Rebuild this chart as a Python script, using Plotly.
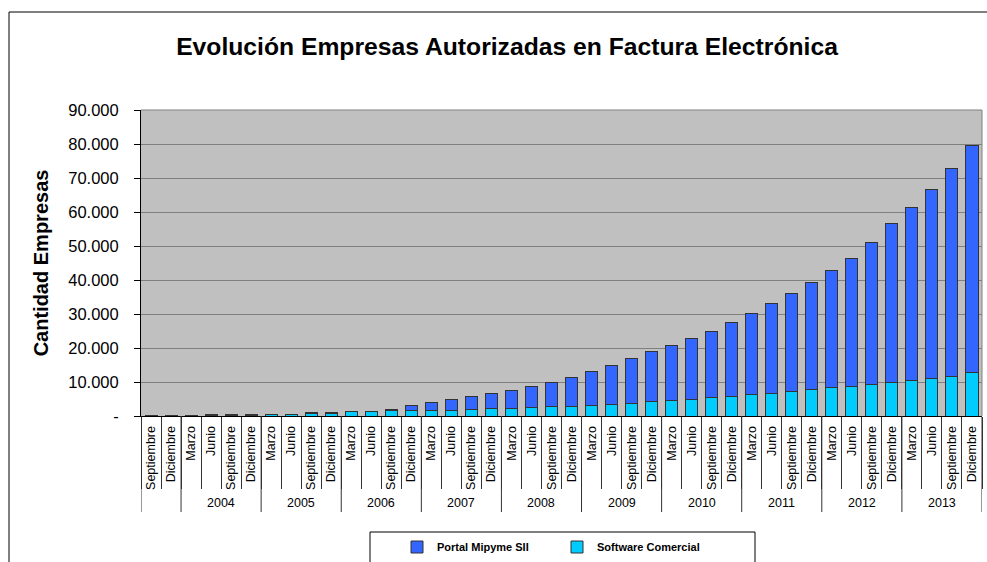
import plotly.graph_objects as go

# ---- data ----
first_months = ["Septiembre", "Diciembre"]          # end of 2003 (no year label)
quarter_months = ["Marzo", "Junio", "Septiembre", "Diciembre"]
years = ["2004", "2005", "2006", "2007", "2008", "2009", "2010", "2011", "2012", "2013"]

software_comercial = [100, 150, 200, 220, 250, 280, 300, 320, 800, 800,
                      1200, 1200, 1600, 1500, 1600, 1600, 1900, 2100, 2100, 2500,
                      2800, 2900, 3200, 3500, 3800, 4200, 4600, 5000, 5300, 5600,
                      6300, 6700, 7200, 7900, 8300, 8700, 9300, 10000, 10400, 11100,
                      11600, 12700]
portal_mipyme = [50, 50, 50, 80, 50, 70, 50, 80, 200, 200,
                 200, 200, 400, 1500, 2400, 3300, 3800, 4500, 5500, 6100,
                 7100, 8400, 9900, 11400, 13100, 14800, 16000, 17700, 19700, 21900,
                 23900, 26300, 28800, 31400, 34600, 37600, 41700, 46500, 50900, 55600,
                 61200, 67000]

y_tickvals = [0, 10000, 20000, 30000, 40000, 50000, 60000, 70000, 80000, 90000]
y_ticktext = ["-", "10.000", "20.000", "30.000", "40.000", "50.000",
              "60.000", "70.000", "80.000", "90.000"]

# ---- build ----
month_labels = first_months + quarter_months * len(years)
xs = list(range(len(month_labels)))
n = len(xs)

FONT = "Liberation Sans, Arial, sans-serif"

W, H = 987, 562
L, R, T, B = 141, 5, 110, 146
PH = H - T - B
PW = W - L - R


def py(pix):  # pixel y -> paper y
    return (H - B - pix) / PH


def px(pix):  # pixel x -> paper x
    return (pix - L) / PW


fig = go.Figure()
fig.add_trace(go.Bar(
    x=xs, y=software_comercial, name="Software Comercial",
    marker=dict(color="#00CCFF", line=dict(color="#333333", width=1)),
))
fig.add_trace(go.Bar(
    x=xs, y=portal_mipyme, name="Portal Mipyme SII",
    marker=dict(color="#3366FF", line=dict(color="#333333", width=1)),
))

shapes = []
# year separators (long lines)
year_bounds = [-0.5, 1.5] + [1.5 + 4 * (k + 1) for k in range(len(years))]
for b in year_bounds:
    shapes.append(dict(type="line", xref="x", yref="paper", x0=b, x1=b,
                       y0=0, y1=py(512), line=dict(color="#333333", width=1)))
# plot border (gray, top & right)
shapes.append(dict(type="line", xref="paper", yref="paper", x0=0, x1=1, y0=1, y1=1,
                   line=dict(color="#808080", width=1)))
shapes.append(dict(type="line", xref="paper", yref="paper", x0=1, x1=1, y0=0, y1=1,
                   line=dict(color="#808080", width=1)))
# outer chart frame
shapes.append(dict(type="line", xref="paper", yref="paper", x0=px(9), x1=px(995),
                   y0=py(12), y1=py(12), line=dict(color="#000000", width=1)))
shapes.append(dict(type="line", xref="paper", yref="paper", x0=px(9), x1=px(9),
                   y0=py(12), y1=py(570), line=dict(color="#000000", width=1)))
# legend box
shapes.append(dict(type="rect", xref="paper", yref="paper", x0=px(370), x1=px(755),
                   y0=py(532), y1=py(575), line=dict(color="#000000", width=1)))

annotations = []
for k, yr in enumerate(years):
    center = 2 + 4 * k + 1.5
    annotations.append(dict(x=center, y=py(503), xref="x", yref="paper", text=yr,
                            showarrow=False, yanchor="middle", xanchor="center",
                            font=dict(family=FONT, size=12.5, color="#000000")))

fig.update_layout(
    width=W, height=H,
    margin=dict(l=L, r=R, t=T, b=B, autoexpand=False),
    paper_bgcolor="white",
    plot_bgcolor="#C0C0C0",
    barmode="stack",
    bargap=0.4,
    title=dict(text="<b>Evolución Empresas Autorizadas en Factura Electrónica</b>",
               x=507 / W, xanchor="center", y=1 - 46 / H, yanchor="middle",
               font=dict(family=FONT, size=24.7, color="#000000")),
    xaxis=dict(
        range=[-0.5, n - 0.5],
        tickmode="array", tickvals=xs, ticktext=month_labels,
        tickangle=-90, ticks="", ticklabelstandoff=4,
        tickfont=dict(family=FONT, size=12.5, color="#000000"),
        showline=True, linecolor="#000000", linewidth=1,
        showgrid=False, zeroline=False,
        minor=dict(tickmode="array", tickvals=[i - 0.5 for i in range(n + 1)],
                   ticks="outside", ticklen=72, tickwidth=1, tickcolor="#333333",
                   showgrid=False),
    ),
    yaxis=dict(
        range=[0, 90000],
        tickmode="array", tickvals=y_tickvals, ticktext=y_ticktext,
        ticks="outside", ticklen=6, tickcolor="#000000",
        ticklabelstandoff=12,
        tickfont=dict(family=FONT, size=16.5, color="#000000"),
        showline=True, linecolor="#000000", linewidth=1,
        showgrid=True, gridcolor="#808080", gridwidth=1,
        zeroline=False,
        title=dict(text="<b>Cantidad Empresas</b>", standoff=14,
                   font=dict(family=FONT, size=20, color="#000000")),
    ),
    legend=dict(
        orientation="h", traceorder="reversed",
        x=px(397), xanchor="left", y=py(547), yanchor="middle",
        entrywidth=115, entrywidthmode="pixels",
        font=dict(family=FONT, size=11, color="#000000", weight="bold"),
        bgcolor="rgba(0,0,0,0)", borderwidth=0,
    ),
    shapes=shapes,
    annotations=annotations,
    showlegend=True,
)

fig.write_html("out.html",
               config={"displayModeBar": False},
               post_script="document.body.style.margin='0px';"
                           "document.body.style.overflow='hidden';")
